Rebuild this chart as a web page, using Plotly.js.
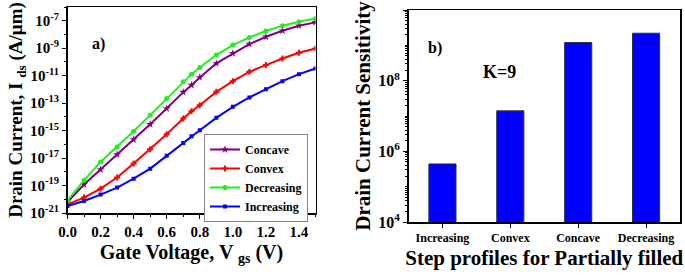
<!DOCTYPE html>
<html>
<head>
<meta charset="utf-8">
<script src="https://cdn.plot.ly/plotly-3.0.1.min.js"></script>
<style>html,body{margin:0;padding:0;background:#fff;}#chart{width:685px;height:277px;}</style>
</head>
<body>
<div id="chart"></div>
<script>
// Panel a) : gate voltage sweep (log10 of drain current, A/um)
const vgs = [0.0, 0.1, 0.2, 0.3, 0.4, 0.5, 0.6, 0.7, 0.75, 0.8, 0.9, 1.0, 1.1, 1.2, 1.3, 1.4, 1.5];
const logConcave    = [-20.2, -18.93, -17.84, -16.75, -15.65, -14.54, -13.39, -12.20, -11.69, -11.13, -10.11, -9.38, -8.70, -8.17, -7.73, -7.36, -7.12];
const logConvex     = [-20.37, -19.88, -19.23, -18.42, -17.40, -16.36, -15.26, -14.12, -13.59, -13.15, -12.18, -11.40, -10.72, -10.23, -9.75, -9.33, -9.02];
const logDecreasing = [-20.08, -18.62, -17.28, -16.19, -15.05, -13.88, -12.66, -11.45, -10.89, -10.40, -9.50, -8.77, -8.22, -7.75, -7.36, -7.07, -6.83];
const logIncreasing = [-20.49, -20.13, -19.66, -19.15, -18.50, -17.77, -16.84, -15.90, -15.41, -14.97, -14.07, -13.27, -12.59, -11.98, -11.40, -10.89, -10.48];
const yTickExp = [-21, -19, -17, -15, -13, -11, -9, -7];

// Panel b) : sensitivity per step profile
const profiles = ["Increasing", "Convex", "Concave", "Decreasing"];
const sensitivity = [4.4e5, 1.4e7, 1.2e9, 2.2e9];
const y2TickExp = [4, 6, 8, 10];

const pw = 685, ph = 277;
const FONT = "Liberation Serif";
const toLin = a => a.map(v => Math.pow(10, v));

function line(name, ys, color, symbol, size) {
  return {
    x: vgs, y: toLin(ys), name: name, type: 'scatter', mode: 'lines+markers',
    line: {color: color, width: 2}, marker: {color: color, symbol: symbol, size: size},
    xaxis: 'x', yaxis: 'y'
  };
}

const traces = [
  line('Concave', logConcave, '#800080', 'star', 6),
  line('Convex', logConvex, '#ff0000', 'cross', 5),
  line('Decreasing', logDecreasing, '#22ee22', 'circle', 5),
  line('Increasing', logIncreasing, '#0000ff', 'square', 4),
  {
    x: profiles, y: sensitivity, type: 'bar', showlegend: false,
    marker: {color: '#0000ff', line: {color: '#333', width: 1}},
    width: 0.4, xaxis: 'x2', yaxis: 'y2'
  }
];

const axBase = {
  showline: true, mirror: true, linecolor: '#000', linewidth: 1.5,
  ticks: 'outside', tickcolor: '#000', showgrid: false, zeroline: false,
  tickfont: {family: FONT, size: 15, color: '#000', weight: 'bold'}
};

const layout = {
  width: pw, height: ph,
  margin: {l: 0, r: 0, t: 0, b: 0},
  paper_bgcolor: '#fff', plot_bgcolor: '#fff',
  font: {family: FONT, color: '#000'},
  xaxis: Object.assign({}, axBase, {
    domain: [67.5 / pw, 315.5 / pw], range: [0, 1.5],
    tick0: 0, dtick: 0.2, tickformat: '.1f', ticklen: 4,
    minor: {ticks: 'outside', ticklen: 2, dtick: 0.1, tickcolor: '#000'},
    title: {text: 'Gate Voltage, V <sub>gs</sub> (V)', standoff: 6,
            font: {family: FONT, size: 20, color: '#000', weight: 'bold'}}
  }),
  yaxis: Object.assign({}, axBase, {
    type: 'log', domain: [1 - 213 / ph, 1 - 7 / ph], range: [-21, -6],
    tickmode: 'array', tickvals: yTickExp.map(e => Math.pow(10, e)),
    ticktext: yTickExp.map(e => '10<sup>' + e + '</sup>'), ticklen: 4,
    minor: {ticks: 'outside', ticklen: 2, dtick: 1, tickcolor: '#000'},
    title: {text: 'Drain Current, I <sub>ds</sub> (A/μm)', standoff: 2,
            font: {family: FONT, size: 19, color: '#000', weight: 'bold'}}
  }),
  xaxis2: Object.assign({}, axBase, {
    domain: [408.5 / pw, 680 / pw], range: [-0.5, 3.5], type: 'category',
    anchor: 'y2', ticklen: 4,
    tickfont: {family: FONT, size: 12, color: '#000', weight: 'bold'},
    title: {text: 'Step profiles for Partially filled', standoff: 6,
            font: {family: FONT, size: 21, color: '#000', weight: 'bold'}}
  }),
  yaxis2: Object.assign({}, axBase, {
    type: 'log', domain: [1 - 222 / ph, 1 - 10 / ph], range: [4, 10], anchor: 'x2',
    tickmode: 'array', tickvals: y2TickExp.map(e => Math.pow(10, e)),
    ticktext: y2TickExp.map(e => '10<sup>' + e + '</sup>'), ticklen: 4,
    tickfont: {family: FONT, size: 16, color: '#000', weight: 'bold'},
    minor: {ticks: 'outside', ticklen: 2, dtick: 'D1', tickcolor: '#000'},
    title: {text: 'Drain Current Sensitivity', standoff: 2,
            font: {family: FONT, size: 21, color: '#000', weight: 'bold'}}
  }),
  legend: {
    x: 204 / pw, y: 1 - 134 / ph, xanchor: 'left', yanchor: 'top',
    bgcolor: '#fff', bordercolor: '#888', borderwidth: 1,
    font: {family: FONT, size: 12, color: '#000', weight: 'bold'},
    tracegroupgap: 0, itemwidth: 30
  },
  annotations: [
    {text: 'a)', xref: 'paper', yref: 'paper', x: 90 / pw, y: 1 - 33 / ph, showarrow: false,
     font: {family: FONT, size: 16, weight: 'bold'}},
    {text: 'b)', xref: 'paper', yref: 'paper', x: 435 / pw, y: 1 - 37 / ph, showarrow: false,
     font: {family: FONT, size: 16, weight: 'bold'}},
    {text: 'K=9', xref: 'paper', yref: 'paper', x: 518 / pw, y: 1 - 60 / ph, showarrow: false,
     font: {family: FONT, size: 18, weight: 'bold'}}
  ]
};

Plotly.newPlot('chart', traces, layout, {displayModeBar: false, staticPlot: true});
</script>
</body>
</html>
